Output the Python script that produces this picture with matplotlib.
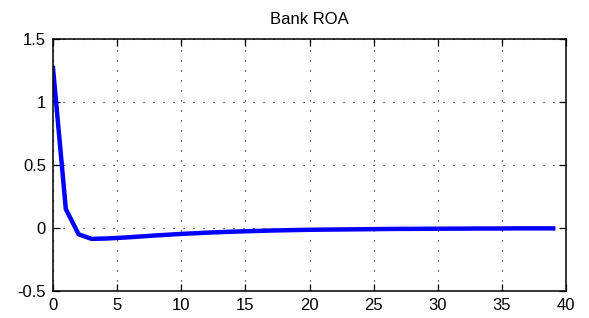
import matplotlib
matplotlib.use("Agg")
import matplotlib.pyplot as plt
import numpy as np

periods = list(range(40))
roa = [1.27, 0.15, -0.05, -0.086, -0.084, -0.079, -0.073, -0.066, -0.059, -0.053,
       -0.047, -0.042, -0.037, -0.033, -0.029, -0.026, -0.023, -0.020, -0.018, -0.016,
       -0.014, -0.013, -0.012, -0.011, -0.010, -0.009, -0.008, -0.007, -0.007, -0.006,
       -0.006, -0.005, -0.005, -0.004, -0.004, -0.004, -0.003, -0.003, -0.003, -0.003]

x_ticks = [0, 5, 10, 15, 20, 25, 30, 35, 40]
y_ticks = [-0.5, 0, 0.5, 1, 1.5]
y_labels = ["-0.5", "0", "0.5", "1", "1.5"]

plt.rcParams["font.family"] = ["Liberation Sans", "DejaVu Sans"]

fig = plt.figure(figsize=(5.89, 3.18), dpi=100)
ax = fig.add_axes([0.09, 0.085, 0.871, 0.792])

ax.plot(periods, roa, color="#0000ff", linewidth=3.2, solid_joinstyle="miter")

ax.set_xlim(0, 40)
ax.set_ylim(-0.5, 1.5)
ax.set_xticks(x_ticks)
ax.set_yticks(y_ticks)
ax.set_yticklabels(y_labels)
ax.tick_params(direction="in", top=True, right=True, length=5, width=0.9,
               labelsize=12, pad=5)
ax.grid(True, color="black", linestyle=(0, (1, 8)), linewidth=0.8)
for spine in ax.spines.values():
    spine.set_linewidth(1.1)

ax.set_title("Bank ROA", fontsize=12, pad=11)

fig.savefig("out.png", dpi=100)
